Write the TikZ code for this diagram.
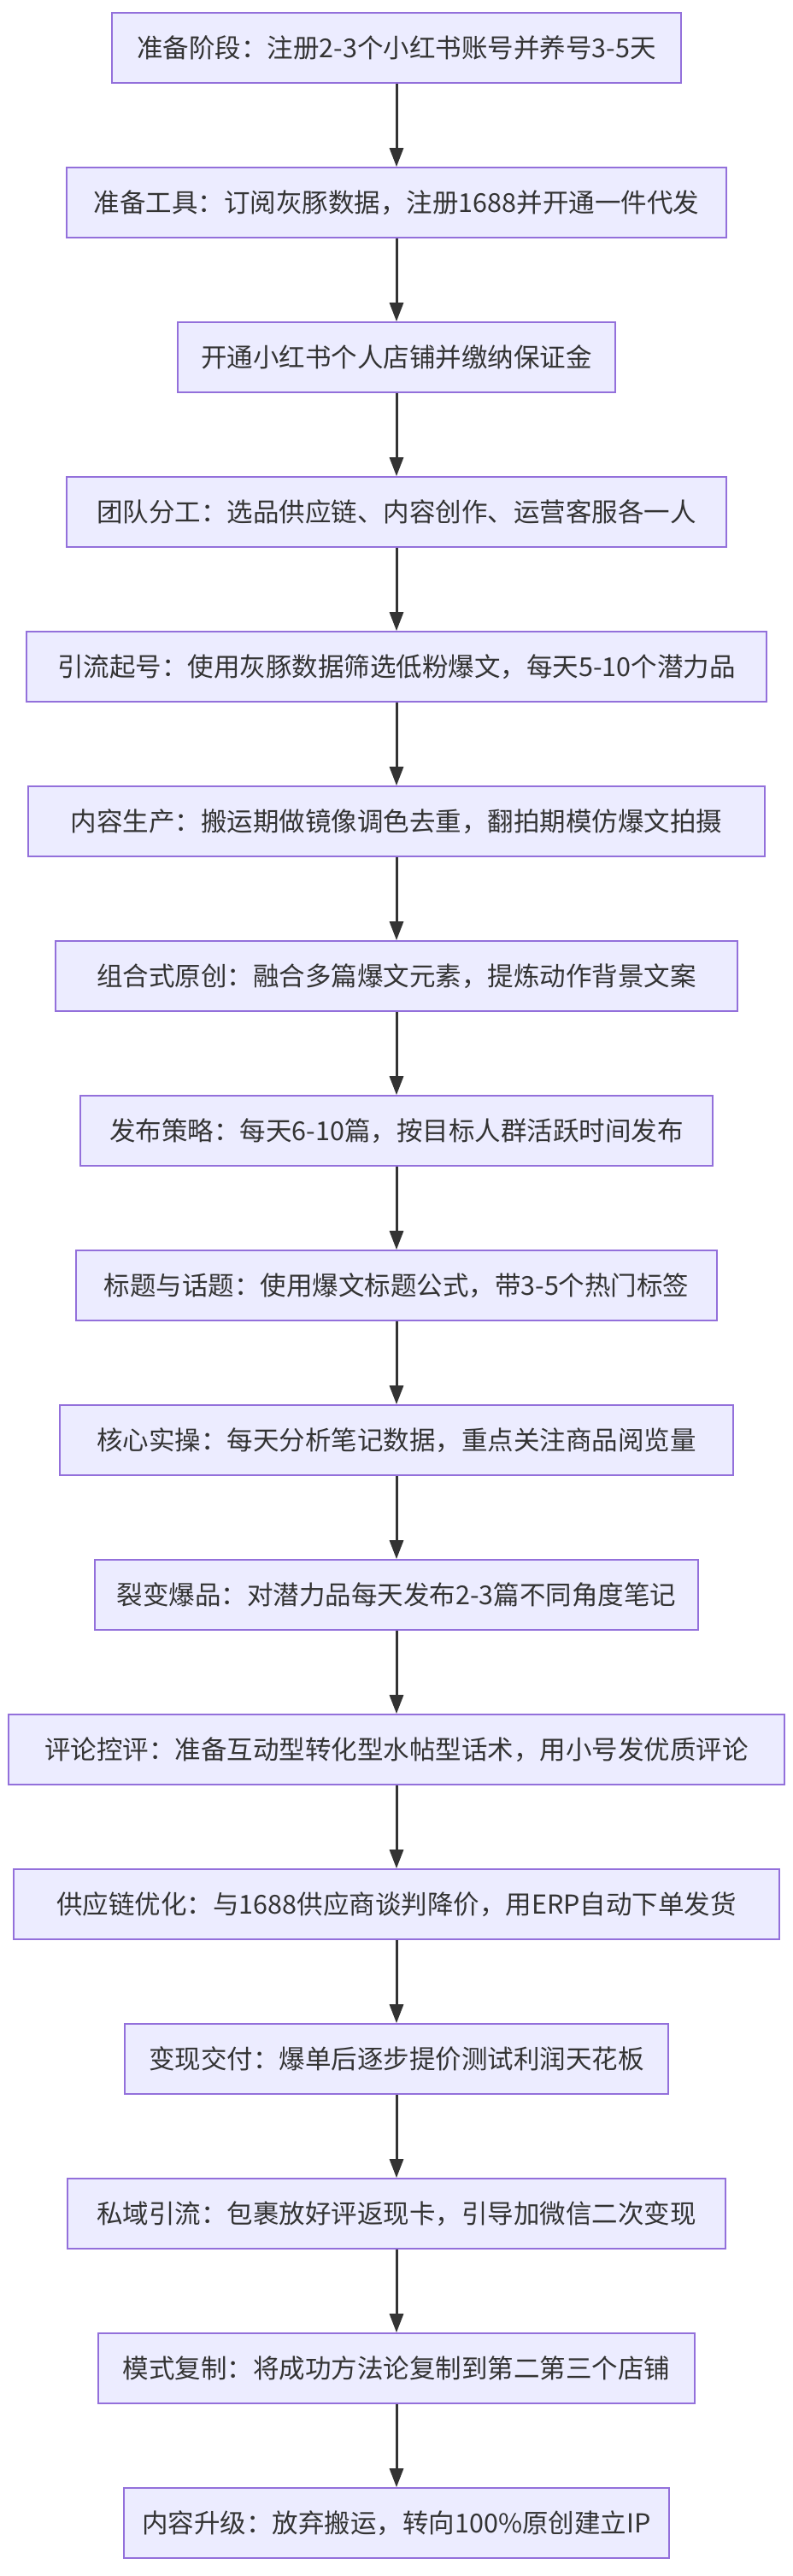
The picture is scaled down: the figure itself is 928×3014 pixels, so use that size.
\documentclass[tikz,border=0pt]{standalone}
\usepackage{fontspec}
\setmainfont{Noto Sans CJK SC}
\usetikzlibrary{arrows.meta}
\definecolor{boxfill}{HTML}{ECECFF}
\definecolor{boxline}{HTML}{9370DB}
\definecolor{arr}{HTML}{333333}
\begin{document}
\begin{tikzpicture}[x=1pt,y=1pt,
  stepbox/.style={draw=boxline,fill=boxfill,line width=1.6pt,minimum height=82pt,inner sep=0pt,font=\fontsize{30.5}{34}\selectfont,text=arr},
  conn/.style={draw=arr,line width=3pt,-{Triangle[length=22pt,width=16pt]}}]
\useasboundingbox (0,0) rectangle (928,-3014);
\def\W{{666,772,512,772,866,862,798,740,750,788,706,908,896,636,770,698,638}}
\foreach \t [count=\i from 0] in {
准备阶段：注册2-3个小红书账号并养号3-5天,
准备工具：订阅灰豚数据，注册1688并开通一件代发,
开通小红书个人店铺并缴纳保证金,
团队分工：选品供应链、内容创作、运营客服各一人,
引流起号：使用灰豚数据筛选低粉爆文，每天5-10个潜力品,
内容生产：搬运期做镜像调色去重，翻拍期模仿爆文拍摄,
组合式原创：融合多篇爆文元素，提炼动作背景文案,
发布策略：每天6-10篇，按目标人群活跃时间发布,
标题与话题：使用爆文标题公式，带3-5个热门标签,
核心实操：每天分析笔记数据，重点关注商品阅览量,
裂变爆品：对潜力品每天发布2-3篇不同角度笔记,
评论控评：准备互动型转化型水帖型话术，用小号发优质评论,
供应链优化：与1688供应商谈判降价，用ERP自动下单发货,
变现交付：爆单后逐步提价测试利润天花板,
私域引流：包裹放好评返现卡，引导加微信二次变现,
模式复制：将成功方法论复制到第二第三个店铺,
内容升级：放弃搬运，转向100\%原创建立IP}
{
  \pgfmathsetmacro{\w}{\W[\i]}
  \node[stepbox,minimum width=\w pt] (n\i) at (464,{-56-181*\i}) {\t};
}
\foreach \i [evaluate=\i as \j using int(\i+1)] in {0,...,15}
  \draw[conn] (n\i) -- (n\j);
\end{tikzpicture}
\end{document}
